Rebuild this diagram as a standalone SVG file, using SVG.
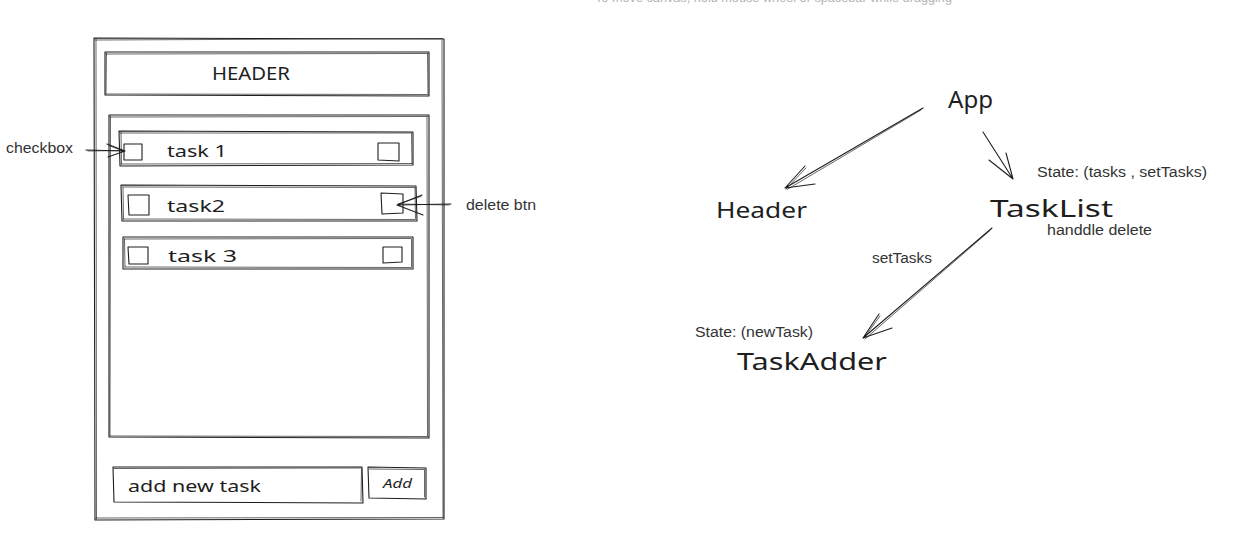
<svg xmlns="http://www.w3.org/2000/svg" width="1257" height="552" viewBox="0 0 1257 552">
<style>
.sk{fill:none;stroke:#1e1e1e;stroke-width:1.1;stroke-linecap:round;stroke-linejoin:round}
.sk2{fill:none;stroke:#1e1e1e;stroke-width:0.8;stroke-linecap:round;opacity:0.85}
.hw{font-family:"Noto Sans","Open Sans",sans-serif;fill:#1e1e1e}
.lbl{font-family:"Liberation Sans",Arial,sans-serif;font-size:14px;fill:#333}
.hint{font-family:"Liberation Sans",Arial,sans-serif;font-size:12px;fill:#b4b4b4}
</style>
<rect width="1257" height="552" fill="#ffffff"/>
<text class="hint" x="595" y="1.5" textLength="357" lengthAdjust="spacingAndGlyphs">To move canvas, hold mouse wheel or spacebar while dragging</text>

<g id="wireframe">
  <g id="frame">
    <path class="sk" d="M94 38 L444 39 L444 519 L95 520 Z"/>
    <path class="sk2" d="M95.5 40 L442.5 38.5 M442 40 L443 518 M96 518 L443 517.5 M96 39 L96.5 519"/>
  </g>
  <g id="header-box">
    <path class="sk" d="M105 52 L429 52 L429 96 L105 95 Z"/>
    <path class="sk2" d="M106 54 L428 53.5 M427.5 54 L428 95 M106 94 L427 94.5 M106.5 53 L106 94"/>
    <text class="hw" x="212" y="80" font-size="18" textLength="78" lengthAdjust="spacingAndGlyphs">HEADER</text>
  </g>
  <g id="task-list-box">
    <path class="sk" d="M109 115 L429 115 L429 438 L109 437 Z"/>
    <path class="sk2" d="M110 117 L428 116.5 M427 117 L427.5 436 M110 436 L428 436.5 M110.5 116 L110 436"/>
  </g>
  <g id="task1">
    <path class="sk" d="M119 131 L413 132 L413 165 L120 166 Z"/>
    <path class="sk2" d="M120 133 L411 133 M411.5 133 L412 164 M121 164 L412 163.5 M121 132 L121.5 164"/>
    <path class="sk" d="M124 144 L142 144 L142 160 L124 160 Z"/>
    <path class="sk" d="M378 143 L399 143 L399 161 L378 160 Z"/>
    <text class="hw" x="167" y="157" font-size="17" textLength="60" lengthAdjust="spacingAndGlyphs">task 1</text>
  </g>
  <g id="task2">
    <path class="sk" d="M121 185 L416 186 L417 221 L122 221 Z"/>
    <path class="sk2" d="M123 187 L415 187.5 M415 188 L415.5 219 M123 219 L415 219.5 M123 187 L123.5 219"/>
    <path class="sk" d="M128 195 L149 195 L149 215 L129 215 Z"/>
    <path class="sk" d="M381 193 L403 194 L403 213 L382 214 Z"/>
    <text class="hw" x="167" y="212" font-size="17" textLength="58" lengthAdjust="spacingAndGlyphs">task2</text>
  </g>
  <g id="task3">
    <path class="sk" d="M123 237 L413 237 L413 269 L123 269 Z"/>
    <path class="sk2" d="M124.5 239 L411 238.5 M411.5 239 L411.5 267 M125 267 L411 267.5 M124.5 239 L125 267"/>
    <path class="sk" d="M128 247 L148 247 L148 264 L129 264 Z"/>
    <path class="sk" d="M383 247 L402 247 L402 262 L383 263 Z"/>
    <text class="hw" x="168" y="262" font-size="17" textLength="69" lengthAdjust="spacingAndGlyphs">task 3</text>
  </g>
  <g id="task-input">
    <path class="sk" d="M113 467 L362 467 L363 503 L114 502 Z"/>
    <path class="sk2" d="M114 468.5 L361 468 M361.5 469 L361 501"/>
    <text class="hw" x="128" y="492" font-size="17" textLength="133" lengthAdjust="spacingAndGlyphs">add new task</text>
  </g>
  <g id="add-button">
    <path class="sk" d="M368 467 L426 468 L426 499 L369 498 Z"/>
    <path class="sk2" d="M369.5 469 L424.5 469.5 M424.5 470 L424.5 497"/>
    <text class="hw" x="383" y="488" font-size="13" font-style="italic" textLength="29" lengthAdjust="spacingAndGlyphs">Add</text>
  </g>
  <g id="checkbox-label">
    <text class="lbl" x="6" y="153" textLength="67" lengthAdjust="spacingAndGlyphs">checkbox</text>
  </g>
  <g id="delete-label">
    <text class="lbl" x="466" y="210" textLength="70" lengthAdjust="spacingAndGlyphs">delete btn</text>
  </g>
</g>

<g id="tree">
  <g id="node-app"><text class="hw" x="948" y="108" font-size="24" textLength="45" lengthAdjust="spacingAndGlyphs">App</text></g>
  <g id="node-header"><text class="hw" x="716" y="218" font-size="22" textLength="91" lengthAdjust="spacingAndGlyphs">Header</text></g>
  <g id="node-tasklist">
    <text class="hw" x="990" y="217" font-size="24" textLength="123" lengthAdjust="spacingAndGlyphs">TaskList</text>
    <text class="lbl" x="1037" y="177" textLength="170" lengthAdjust="spacingAndGlyphs">State: (tasks , setTasks)</text>
    <text class="lbl" x="1047" y="235" textLength="105" lengthAdjust="spacingAndGlyphs">handdle delete</text>
  </g>
  <g id="node-taskadder">
    <text class="hw" x="737" y="370" font-size="24" textLength="150" lengthAdjust="spacingAndGlyphs">TaskAdder</text>
    <text class="lbl" x="695" y="337" textLength="118" lengthAdjust="spacingAndGlyphs">State: (newTask)</text>
  </g>
</g>

<g id="connectors">
  <!-- checkbox arrow -->
  <path class="sk" d="M86 150 L125 151 M107 144 L125 151 L108 157"/>
  <path class="sk2" d="M88 151 L123 150.5 M109 145.5 L124 151.5"/>
  <!-- delete btn arrow -->
  <path class="sk" d="M451 204 L397 205 M422 195 L397 205 L423 215"/>
  <path class="sk2" d="M449 205 L399 204 M421 196.5 L398 204"/>
  <!-- App -> Header -->
  <path class="sk" d="M923 108 L785 188 M805 166 L785 188 L815 184"/>
  <path class="sk2" d="M921 110 L787 189.5 M806 168 L786 189"/>
  <!-- App -> TaskList -->
  <path class="sk" d="M983 132 L1013 179 M989 160 L1013 179 L1006 153"/>
  <!-- TaskList -> TaskAdder -->
  <path class="sk" d="M992 228 L863 338 M879 314 L863 338 L892 328"/>
  <path class="sk2" d="M990 230.5 L865 339 M880 316 L864 338"/>
  <text class="lbl" x="872" y="263" textLength="60" lengthAdjust="spacingAndGlyphs">setTasks</text>
</g>
</svg>
